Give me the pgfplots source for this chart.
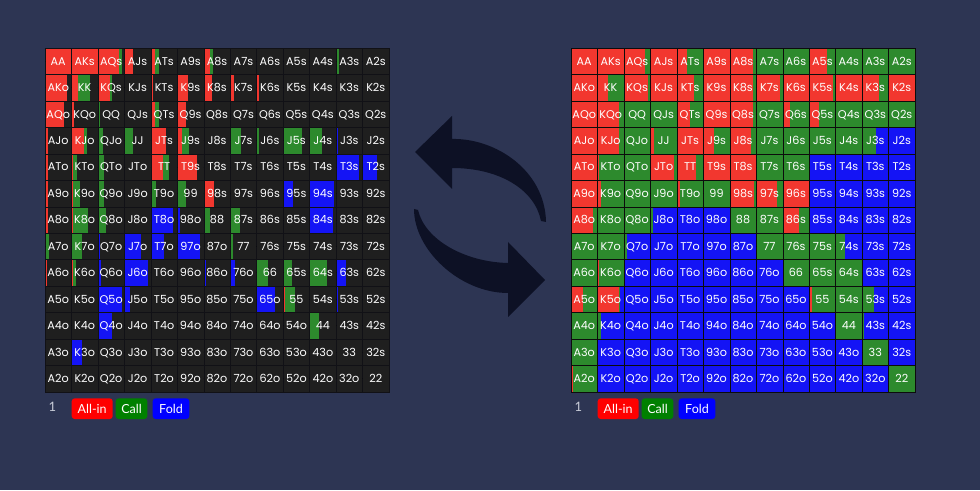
\documentclass[border=0pt]{standalone}
\usepackage{pgfplots}
\pgfplotsset{compat=1.18}
\usepackage{pgfplotstable}
\usepackage{fontspec}
\setmainfont{Lato}
\newfontfamily\cellfont{Poppins}
\definecolor{bgnavy}{HTML}{2D3553}
\definecolor{celldark}{HTML}{1F1F1F}
\definecolor{gridlineL}{HTML}{111116}
\definecolor{gridlineR}{HTML}{0C0C0C}
\definecolor{allin}{HTML}{F2372F}
\definecolor{call}{HTML}{2D8A2D}
\definecolor{fold}{HTML}{1414F5}
\definecolor{arrowc}{HTML}{0D1125}
\definecolor{legred}{HTML}{FF0000}
\definecolor{leggreen}{HTML}{008000}
\definecolor{legblue}{HTML}{0000FF}
\definecolor{leggray}{HTML}{C8CCD8}

\pgfplotstableread{
row col h r1 g1 b1 r2 g2 b2
0 0 AA 1 0 0 1 0 0
0 1 AKs 1 0 0 1 0 0
0 2 AQs 0.82 0.1 0 0.83 0.17 0
0 3 AJs 0.27 0 0 1 0 0
0 4 ATs 0.12 0.16 0 0.37 0.63 0
0 5 A9s 0 0 0 1 0 0
0 6 A8s 0.22 0.08 0 0.9 0.1 0
0 7 A7s 0 0 0 0 1 0
0 8 A6s 0 0 0 0 1 0
0 9 A5s 0 0 0 0.7 0.3 0
0 10 A4s 0 0 0 0 1 0
0 11 A3s 0 0.06 0 0 1 0
0 12 A2s 0 0 0 0 1 0
1 0 AKo 0.83 0 0 1 0 0
1 1 KK 0.22 0.45 0 0.4 0.6 0
1 2 KQs 0.47 0.03 0 0.97 0.03 0
1 3 KJs 0 0 0 1 0 0
1 4 KTs 0.03 0 0 0.67 0.33 0
1 5 K9s 0.35 0 0 1 0 0
1 6 K8s 0.25 0 0 0.9 0.1 0
1 7 K7s 0.1 0 0 0.92 0.08 0
1 8 K6s 0.03 0 0 1 0 0
1 9 K5s 0 0 0 0.95 0.05 0
1 10 K4s 0 0 0 1 0 0
1 11 K3s 0 0 0 0.67 0.33 0
1 12 K2s 0 0 0 1 0 0
2 0 AQo 0.7 0 0 1 0 0
2 1 KQo 0.02 0 0 0.85 0.15 0
2 2 QQ 0 0.03 0 0 1 0
2 3 QJs 0 0 0 0 1 0
2 4 QTs 0.12 0.15 0 0.5 0.5 0
2 5 Q9s 0.27 0 0 1 0 0
2 6 Q8s 0 0 0 0.9 0.1 0
2 7 Q7s 0 0 0 0 1 0
2 8 Q6s 0 0 0 0.27 0.73 0
2 9 Q5s 0 0 0 0.37 0.63 0
2 10 Q4s 0 0 0 0 1 0
2 11 Q3s 0 0 0 0 1 0
2 12 Q2s 0 0 0 0 1 0
3 0 AJo 0.03 0 0 1 0 0
3 1 KJo 0.5 0.05 0 0.85 0.15 0
3 2 QJo 0.02 0.12 0 0 1 0
3 3 JJ 0 0.28 0 0.13 0.87 0
3 4 JTs 0.53 0 0 1 0 0
3 5 J9s 0.15 0.25 0 0.4 0.6 0
3 6 J8s 0 0 0 0.85 0.15 0
3 7 J7s 0 0.37 0 0 1 0
3 8 J6s 0 0.04 0 0 1 0
3 9 J5s 0 0.7 0 0 1 0
3 10 J4s 0 0.45 0 0 1 0
3 11 J3s 0 0 0.02 0 0.53 0.47
3 12 J2s 0 0 0 0 0 1
4 0 ATo 0.03 0 0 1 0 0
4 1 KTo 0.02 0.12 0 0.05 0.95 0
4 2 QTo 0.02 0.15 0 0 1 0
4 3 JTo 0 0 0 0.95 0.05 0
4 4 TT 0.47 0.2 0 0.77 0.23 0
4 5 T9s 0.75 0 0 1 0 0
4 6 T8s 0 0 0 1 0 0
4 7 T7s 0 0 0 0 1 0
4 8 T6s 0 0 0 0 1 0
4 9 T5s 0 0 0 0 0 1
4 10 T4s 0 0 0 0 0 1
4 11 T3s 0 0 0.88 0 0 1
4 12 T2s 0 0 0.5 0 0 1
5 0 A9o 0.03 0 0 1 0 0
5 1 K9o 0.05 0.22 0 0.1 0.9 0
5 2 Q9o 0.03 0.15 0 0.03 0.97 0
5 3 J9o 0 0 0 0 1 0
5 4 T9o 0 0.12 0 0.1 0.9 0
5 5 99 0 0.28 0 0 1 0
5 6 98s 0.35 0 0 0.95 0.05 0
5 7 97s 0 0 0 0.8 0.2 0
5 8 96s 0 0 0 1 0 0
5 9 95s 0 0 0.33 0 0 1
5 10 94s 0 0 0.93 0 0 1
5 11 93s 0 0 0 0 0 1
5 12 92s 0 0 0 0 0 1
6 0 A8o 0.03 0 0 0.87 0.13 0
6 1 K8o 0.02 0.57 0 0 1 0
6 2 Q8o 0.02 0.22 0 0 1 0
6 3 J8o 0 0 0 0 0.08 0.92
6 4 T8o 0 0 0.85 0 0 1
6 5 98o 0 0 0.05 0 0 1
6 6 88 0 0.2 0 0 1 0
6 7 87s 0 0.32 0 0 1 0
6 8 86s 0 0 0 0.63 0.37 0
6 9 85s 0 0 0 0 0 1
6 10 84s 0 0 0.9 0 0 1
6 11 83s 0 0 0 0 0 1
6 12 82s 0 0 0 0 0 1
7 0 A7o 0 0.07 0 0 1 0
7 1 K7o 0 0.37 0 0 1 0
7 2 Q7o 0 0 0.03 0 0.1 0.9
7 3 J7o 0 0 0.62 0 0 1
7 4 T7o 0 0 0.45 0 0 1
7 5 97o 0 0 0.87 0 0 1
7 6 87o 0 0 0 0 0 1
7 7 77 0 0.03 0 0 1 0
7 8 76s 0 0 0 0 1 0
7 9 75s 0 0 0 0 1 0
7 10 74s 0 0 0 0 0.35 0.65
7 11 73s 0 0 0 0 0 1
7 12 72s 0 0 0 0 0 1
8 0 A6o 0.02 0 0 0 1 0
8 1 K6o 0.03 0.08 0 0.05 0.95 0
8 2 Q6o 0 0 0.05 0 0 1
8 3 J6o 0 0 0.9 0 0 1
8 4 T6o 0 0 0 0 0 1
8 5 96o 0 0 0 0 0 1
8 6 86o 0 0 0.03 0 0 1
8 7 76o 0 0 0.12 0 0 1
8 8 66 0 0.37 0 0 1 0
8 9 65s 0 0.3 0 0 1 0
8 10 64s 0 0.62 0 0 1 0
8 11 63s 0 0 0.32 0 0 1
8 12 62s 0 0 0 0 0 1
9 0 A5o 0 0 0 0.47 0.53 0
9 1 K5o 0 0 0 0.85 0.03 0.12
9 2 Q5o 0 0 0.92 0 0 1
9 3 J5o 0 0 0.17 0 0 1
9 4 T5o 0 0 0 0 0 1
9 5 95o 0 0 0 0 0 1
9 6 85o 0 0 0 0 0 1
9 7 75o 0 0 0 0 0 1
9 8 65o 0 0 0.67 0 0 1
9 9 55 0.03 0.4 0 0.1 0.9 0
9 10 54s 0 0 0 0 1 0
9 11 53s 0 0 0.02 0 0.45 0.55
9 12 52s 0 0 0 0 0 1
10 0 A4o 0 0 0 0 1 0
10 1 K4o 0 0 0 0 0.1 0.9
10 2 Q4o 0 0 0.5 0 0 1
10 3 J4o 0 0 0 0 0 1
10 4 T4o 0 0 0 0 0 1
10 5 94o 0 0 0 0 0 1
10 6 84o 0 0 0 0 0 1
10 7 74o 0 0 0 0 0 1
10 8 64o 0 0 0 0 0 1
10 9 54o 0 0 0 0 0 1
10 10 44 0 0.3 0 0 1 0
10 11 43s 0 0 0 0 0.05 0.95
10 12 42s 0 0 0 0 0 1
11 0 A3o 0 0 0 0 1 0
11 1 K3o 0 0 0.37 0 0 1
11 2 Q3o 0 0 0 0 0 1
11 3 J3o 0 0 0 0 0 1
11 4 T3o 0 0 0 0 0 1
11 5 93o 0 0 0 0 0 1
11 6 83o 0 0 0 0 0 1
11 7 73o 0 0 0 0 0 1
11 8 63o 0 0 0 0 0 1
11 9 53o 0 0 0 0 0 1
11 10 43o 0 0 0 0 0 1
11 11 33 0 0 0 0 1 0
11 12 32s 0 0 0 0 0 1
12 0 A2o 0 0 0 0.03 0.97 0
12 1 K2o 0 0 0 0 0 1
12 2 Q2o 0 0 0 0 0 1
12 3 J2o 0 0 0 0 0 1
12 4 T2o 0 0 0 0 0 1
12 5 92o 0 0 0 0 0 1
12 6 82o 0 0 0 0 0 1
12 7 72o 0 0 0 0 0 1
12 8 62o 0 0 0 0 0 1
12 9 52o 0 0 0 0 0 1
12 10 42o 0 0 0 0 0 1
12 11 32o 0 0 0 0 0 1
12 12 22 0 0 0 0 1 0
}\hands

\pgfmathsetmacro{\cellw}{344/13}
\pgfplotsset{
  seg/.style n args={4}{%
    scatter, only marks, mark=*, mark size=0pt, mark options={draw=none,fill=none},
    visualization depends on={#2 \as \segoff},
    visualization depends on={#3 \as \segw},
    scatter/@pre marker code/.code={%
      \ifdim\segw pt>0.001pt
      \fill[#1] ({#4+\segoff*(\cellw-2*#4)}, {-\cellw/2+#4}) rectangle ({#4+(\segoff+\segw)*(\cellw-2*#4)}, {\cellw/2-#4});
      \fi
    },
    scatter/@post marker code/.code={},
  },
  gridaxis/.style={
    anchor=south west, scale only axis, width=344pt, height=344pt,
    xmin=0, xmax=13, ymin=0, ymax=13, y dir=reverse, hide axis, clip=false,
  },
  labelplot/.style={
    only marks, mark=none, point meta=explicit symbolic, nodes near coords,
    nodes near coords align={center},
    every node near coord/.append style={anchor=center, inner sep=0pt, text=white,
      text height=7.8pt, text depth=0pt,
      font=\cellfont\fontsize{11.2}{12}\selectfont},
  },
}
\tikzset{
  btn/.style={text=white, rounded corners=3pt, minimum height=20.7pt, inner xsep=0pt, inner ysep=0pt,
    font=\fontsize{12.5}{12.5}\selectfont},
}

\begin{document}
\begin{tikzpicture}[x=1pt,y=1pt]
\fill[bgnavy] (0,0) rectangle (980,490);
\path[use as bounding box] (0,0) rectangle (980,490);

% refresh arrows
\fill[arrowc] (452,374) -- (415,338) -- (452,301) -- (452,322)
  .. controls (500,322) and (535,300) .. (541,269) -- (546,268)
  .. controls (545,320) and (495,352) .. (452,351) -- cycle;
\fill[arrowc] (508,248) -- (545,210) -- (508,173) -- (508,197)
  .. controls (460,197) and (414,240) .. (414,281) -- (418,280)
  .. controls (425,250) and (465,228) .. (508,227) -- cycle;

% left grid
\begin{axis}[gridaxis, at={(45pt,98pt)}]
\addplot[seg={gridlineL}{0}{1}{0pt}] table[x=col, y expr=\thisrow{row}+0.5]{\hands};
\addplot[seg={celldark}{0}{1}{1pt}] table[x=col, y expr=\thisrow{row}+0.5]{\hands};
\addplot[seg={allin}{0}{\thisrow{r1}}{1pt}] table[x=col, y expr=\thisrow{row}+0.5]{\hands};
\addplot[seg={call}{\thisrow{r1}}{\thisrow{g1}}{1pt}] table[x=col, y expr=\thisrow{row}+0.5]{\hands};
\addplot[seg={fold}{\thisrow{r1}+\thisrow{g1}}{\thisrow{b1}}{1pt}] table[x=col, y expr=\thisrow{row}+0.5]{\hands};
\addplot[labelplot] table[x expr=\thisrow{col}+0.5, y expr=\thisrow{row}+0.5, meta=h]{\hands};
\end{axis}

% right grid
\begin{axis}[gridaxis, at={(571pt,98pt)}]
\addplot[seg={gridlineR}{0}{1}{0pt}] table[x=col, y expr=\thisrow{row}+0.5]{\hands};
\addplot[seg={allin}{0}{\thisrow{r2}}{1pt}] table[x=col, y expr=\thisrow{row}+0.5]{\hands};
\addplot[seg={call}{\thisrow{r2}}{\thisrow{g2}}{1pt}] table[x=col, y expr=\thisrow{row}+0.5]{\hands};
\addplot[seg={fold}{\thisrow{r2}+\thisrow{g2}}{\thisrow{b2}}{1pt}] table[x=col, y expr=\thisrow{row}+0.5]{\hands};
\addplot[labelplot] table[x expr=\thisrow{col}+0.5, y expr=\thisrow{row}+0.5, meta=h]{\hands};
\end{axis}

% legends
\foreach \dx in {0,526} {
  \node[text=leggray, font=\fontsize{13}{13}\selectfont] at (52.5+\dx,83) {1};
  \node[btn, fill=legred, minimum width=41pt] at (92.2+\dx,81.3) {All-in};
  \node[btn, fill=leggreen, minimum width=31.6pt] at (131.5+\dx,81.3) {Call};
  \node[btn, fill=legblue, minimum width=36.6pt] at (171+\dx,81.3) {Fold};
}
\end{tikzpicture}
\end{document}
